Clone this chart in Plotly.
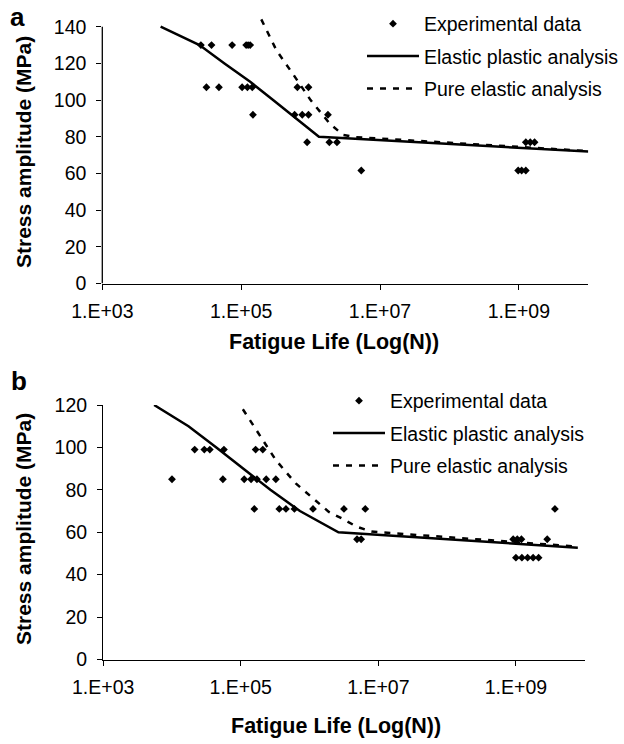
import plotly.graph_objects as go

# ---------------- Panel a data ----------------
a_exp_N = [10**4.42, 10**4.573, 10**4.87, 10**5.072, 10**5.10, 10**5.13,
           10**4.50, 10**4.68, 10**5.014, 10**5.09, 10**5.16, 10**5.81, 10**5.97,
           10**5.17, 10**5.77, 10**5.88, 10**5.97, 10**6.25,
           10**5.95, 10**6.27, 10**6.38, 10**9.10, 10**9.164, 10**9.226,
           10**6.73, 10**8.99, 10**9.04, 10**9.10]
a_exp_S = [130, 130, 130, 130, 130, 130,
           107, 107, 107, 107, 107, 107, 107,
           92, 92, 92, 92, 92,
           77, 77, 77, 77, 77, 77,
           61.6, 61.6, 61.6, 61.6]
a_ep_N = [10**3.84, 10**4.40, 10**4.76, 10**5.13, 10**5.46, 10**5.79, 10**6.12, 10**10.0]
a_ep_S = [140, 130, 120, 110, 100, 90, 80, 71.9]
a_pe_N = [10**5.29, 10**5.51, 10**5.75, 10**6.0, 10**6.28, 10**6.47, 10**6.65, 10**10.0]
a_pe_S = [144, 127, 114, 100, 87, 81, 79.8, 72.2]

# ---------------- Panel b data ----------------
b_exp_N = [10**4.00, 10**4.74, 10**5.05, 10**5.15, 10**5.235, 10**5.37, 10**5.51,
           10**4.33, 10**4.47, 10**4.55, 10**4.755, 10**5.216, 10**5.32,
           10**5.197, 10**5.56, 10**5.657, 10**5.78, 10**6.05, 10**6.50, 10**6.81, 10**9.567,
           10**6.69, 10**6.75, 10**8.96, 10**9.02, 10**9.08, 10**9.455,
           10**9.0, 10**9.087, 10**9.17, 10**9.25, 10**9.33]
b_exp_S = [85, 85, 85, 85, 85, 85, 85,
           99, 99, 99, 99, 99, 99,
           71, 71, 71, 71, 71, 71, 71, 71,
           56.7, 56.7, 56.7, 56.7, 56.7, 56.7,
           48, 48, 48, 48, 48]
b_ep_N = [10**3.74, 10**4.24, 10**4.645, 10**5.03, 10**5.43, 10**5.86, 10**6.42, 10**9.9]
b_ep_S = [120, 110, 100, 90, 80, 70, 60, 52.7]
b_pe_N = [10**5.03, 10**5.27, 10**5.51, 10**5.80, 10**6.0, 10**6.28, 10**6.47, 10**6.68, 10**6.9, 10**9.9]
b_pe_S = [118, 106, 94, 83, 77.5, 69.6, 66.5, 62.7, 60.3, 53.2]

x_tickvals = [1e3, 1e5, 1e7, 1e9]
x_ticktext = ["1.E+03", "1.E+05", "1.E+07", "1.E+09"]
a_yticks = [0, 20, 40, 60, 80, 100, 120, 140]
b_yticks = [0, 20, 40, 60, 80, 100, 120]

FONT = "Liberation Sans, Arial, sans-serif"
W, H = 624, 744
TICKFONT = 19.5
LEGFONT = 19.5

fig = go.Figure()

def add_panel(xa, ya, legend, eN, eS, pN, pS, qN, qS):
    fig.add_trace(go.Scatter(x=eN, y=eS, mode="markers", name="Experimental data",
                             marker=dict(symbol="diamond", size=6, color="black"),
                             xaxis=xa, yaxis=ya, legend=legend, legendgroup=legend + "1"))
    fig.add_trace(go.Scatter(x=pN, y=pS, mode="lines", name="Elastic plastic analysis",
                             line=dict(color="black", width=2.5),
                             xaxis=xa, yaxis=ya, legend=legend, legendgroup=legend + "2"))
    fig.add_trace(go.Scatter(x=qN, y=qS, mode="lines", name="Pure elastic analysis",
                             line=dict(color="black", width=2.5, dash="6px,7px"),
                             xaxis=xa, yaxis=ya, legend=legend, legendgroup=legend + "3"))

add_panel("x", "y", "legend", a_exp_N, a_exp_S, a_ep_N, a_ep_S, a_pe_N, a_pe_S)
add_panel("x2", "y2", "legend2", b_exp_N, b_exp_S, b_ep_N, b_ep_S, b_pe_N, b_pe_S)

def px(xp):
    return xp / W

def py(yp):
    return 1 - yp / H

axis_common = dict(showgrid=False, zeroline=False, ticks="outside", ticklen=5,
                   tickwidth=1.3, tickcolor="black", automargin=False,
                   tickfont=dict(family=FONT, size=TICKFONT, color="black"))

xcommon = dict(axis_common, type="log", range=[3, 10], tickvals=x_tickvals,
               ticktext=x_ticktext, showline=True, linecolor="black", linewidth=1.3,
               ticklabelstandoff=5)

ycommon = dict(axis_common, ticklabelstandoff=6)

fig.update_layout(
    template="none",
    width=W, height=H, margin=dict(l=0, r=0, t=0, b=0, autoexpand=False),
    paper_bgcolor="white", plot_bgcolor="white",
    font=dict(family=FONT, color="black"),
    xaxis=dict(xcommon, domain=[px(102.3), px(588.3)], anchor="y"),
    yaxis=dict(ycommon, range=[0, 146], tickvals=a_yticks, showline=False,
               domain=[py(283.5), py(15.7)], anchor="x"),
    xaxis2=dict(xcommon, domain=[px(103.2), px(584.7)], anchor="y2"),
    yaxis2=dict(ycommon, range=[0, 120], tickvals=b_yticks, showline=True,
                linecolor="black", linewidth=1.3,
                domain=[py(659.5), py(405)], anchor="x2"),
    legend=dict(x=px(362), y=py(4.5), xanchor="left", yanchor="top",
                bgcolor="rgba(0,0,0,0)", borderwidth=0, tracegroupgap=4,
                itemwidth=52, font=dict(family=FONT, size=LEGFONT, color="black")),
    legend2=dict(x=px(328), y=py(381.5), xanchor="left", yanchor="top",
                 bgcolor="rgba(0,0,0,0)", borderwidth=0, tracegroupgap=4,
                 itemwidth=52, font=dict(family=FONT, size=LEGFONT, color="black")),
    showlegend=True,
)

# y-axis line of panel a stops at the 140 tick
fig.add_shape(type="line", xref="x domain", yref="y", x0=0, x1=0, y0=0, y1=140,
              line=dict(color="black", width=1.3))

ann = []
ann.append(dict(text="<b>Stress amplitude (MPa)</b>", x=px(23), y=py(152), textangle=-90,
                font=dict(family=FONT, size=21, color="black")))
ann.append(dict(text="<b>Stress amplitude (MPa)</b>", x=px(23), y=py(529), textangle=-90,
                font=dict(family=FONT, size=21, color="black")))
ann.append(dict(text="<b>Fatigue Life (Log(N))</b>", x=px(334), y=py(342),
                font=dict(family=FONT, size=21.5, color="black")))
ann.append(dict(text="<b>Fatigue Life (Log(N))</b>", x=px(335.5), y=py(726.4),
                font=dict(family=FONT, size=21.5, color="black")))
ann.append(dict(text="<b>a</b>", x=px(17), y=py(17),
                font=dict(family=FONT, size=26, color="black")))
ann.append(dict(text="<b>b</b>", x=px(19), y=py(381),
                font=dict(family=FONT, size=26, color="black")))
for a in ann:
    a.update(xref="paper", yref="paper", showarrow=False, xanchor="center", yanchor="middle")
fig.update_layout(annotations=ann)

fig.write_html("out.html")
